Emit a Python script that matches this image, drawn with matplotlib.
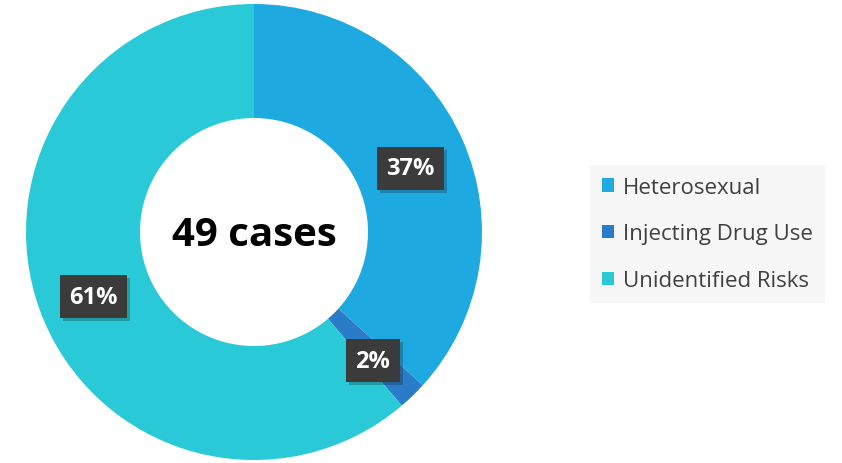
import matplotlib.pyplot as plt
import matplotlib.patheffects as pe
from matplotlib.patches import Patch

categories = ["Heterosexual", "Injecting Drug Use", "Unidentified Risks"]
cases = [18, 1, 30]
center_label = "49 cases"
colors = ["#1fa9e1", "#2a7cc8", "#2ac9d8"]

plt.rcParams["font.family"] = ["Open Sans", "DejaVu Sans"]

fig = plt.figure(figsize=(8.42, 4.64), dpi=100)
W, H = 842, 464
cx, cy, R = 254, 233, 228
ax = fig.add_axes([(cx - R) / W, (H - cy - R) / H, 2 * R / W, 2 * R / H])

wedges, texts, pcts = ax.pie(
    cases, colors=colors, startangle=90, counterclock=False,
    wedgeprops=dict(width=0.5, linewidth=0),
    autopct=lambda p: f"{p:.0f}%", pctdistance=0.75,
)
for t in pcts:
    x, y = t.get_position()
    t.set_position((x, y - 0.025))
    t.set_color("white")
    t.set_fontweight("bold")
    t.set_fontsize(17)
    t.set_bbox(dict(boxstyle="square,pad=0.4", facecolor="#3c3b3b", edgecolor="none"))
    t.get_bbox_patch().set_path_effects(
        [pe.SimplePatchShadow(offset=(2, -2), alpha=0.25), pe.Normal()])

ax.text(0, -0.01, center_label, ha="center", va="center", fontsize=29,
        fontweight="bold", color="black")
ax.set_xlim(-1, 1)
ax.set_ylim(-1, 1)
ax.set_aspect("equal")

handles = [Patch(facecolor=c, edgecolor="none") for c in colors]
leg = fig.legend(handles, categories, loc="center left",
                 bbox_to_anchor=(590 / W, 1 - 235 / H), frameon=True,
                 fontsize=16, handlelength=0.55, handleheight=0.55,
                 handletextpad=0.4, labelspacing=1.15, borderpad=0.55,
                 borderaxespad=0, fancybox=False)
leg.get_frame().set_facecolor("#f6f6f6")
leg.get_frame().set_edgecolor("none")
for t in leg.get_texts():
    t.set_color("#404040")

fig.savefig("out.png", dpi=100)
